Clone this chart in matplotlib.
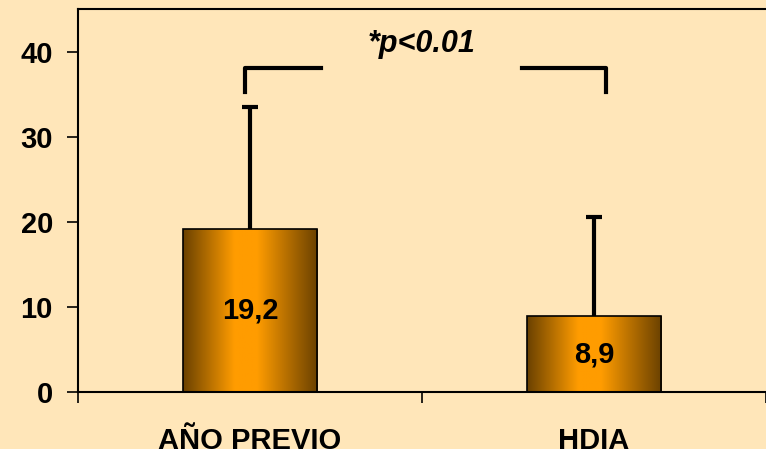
import matplotlib.pyplot as plt
import numpy as np
from matplotlib.colors import LinearSegmentedColormap

categorias = ["AÑO PREVIO", "HDIA"]
medias = [19.2, 8.9]
desv_sup = [14.3, 11.7]
etiquetas = ["19,2", "8,9"]
texto_p = "*p<0.01"

fondo = "#FFE6B9"
plt.rcParams["font.family"] = ["Liberation Sans", "DejaVu Sans"]
plt.rcParams["font.weight"] = "bold"

fig = plt.figure(figsize=(7.66, 4.49), dpi=100, facecolor=fondo)
ax = fig.add_axes([78 / 766, 57 / 449, 1 - 78 / 766, 383 / 449])
ax.set_facecolor(fondo)

x = np.arange(len(categorias))
ancho = 0.39

# degradado horizontal marrón -> naranja -> marrón para cada barra
cmap = LinearSegmentedColormap.from_list(
    "naranja", [(0, "#6A4100"), (0.38, "#FF9C00"), (0.55, "#FF9C00"), (1, "#6A4100")])
grad = np.linspace(0, 1, 256).reshape(1, -1)

barras = ax.bar(x, medias, width=ancho, facecolor="none", edgecolor="black",
                linewidth=1.2, zorder=3)
for b in barras:
    x0, y0 = b.get_x(), b.get_y()
    im = ax.imshow(grad, cmap=cmap, aspect="auto", zorder=2,
                   extent=[x0, x0 + b.get_width(), y0, y0 + b.get_height()])
    im.set_clip_path(b)

# solo la desviación hacia arriba, sin tapa inferior
eb = ax.errorbar(x, medias, yerr=[[0, 0], desv_sup], fmt="none", ecolor="black",
                 elinewidth=3, capsize=6, capthick=3, zorder=1)
for cap in eb[1]:
    if np.allclose(cap.get_ydata(), medias):
        cap.set_visible(False)

for xi, m, et in zip(x, medias, etiquetas):
    ax.text(xi, m / 2, et, ha="center", va="center", fontsize=21,
            fontweight="bold", zorder=4)

# corchete de significación
kw = dict(color="black", linewidth=3, solid_capstyle="projecting")
ax.plot([-0.015, -0.015, 0.205], [35.2, 38.1, 38.1], **kw)
ax.plot([0.79, 1.035, 1.035], [38.1, 38.1, 35.2], **kw)
ax.text(0.5, 40.9, texto_p, ha="center", va="center", fontsize=22,
        fontweight="bold", fontstyle="italic")

ax.set_xlim(-0.5, 1.5)
ax.set_ylim(0, 45)
ax.set_yticks([0, 10, 20, 30, 40])
ax.tick_params(axis="y", length=8, width=1.2, pad=10, labelsize=21)

ax.set_xticks([-0.5, 0.5, 1.5])
ax.set_xticklabels([])
ax.tick_params(axis="x", which="major", length=8, width=1.2)
ax.set_xticks(x, minor=True)
ax.set_xticklabels(categorias, minor=True)
ax.tick_params(axis="x", which="minor", length=0, pad=25, labelsize=21)

ax.spines["right"].set_visible(False)
for s in ["left", "top", "bottom"]:
    ax.spines[s].set_linewidth(1.5)

fig.savefig("out.png", dpi=100, facecolor=fondo)
